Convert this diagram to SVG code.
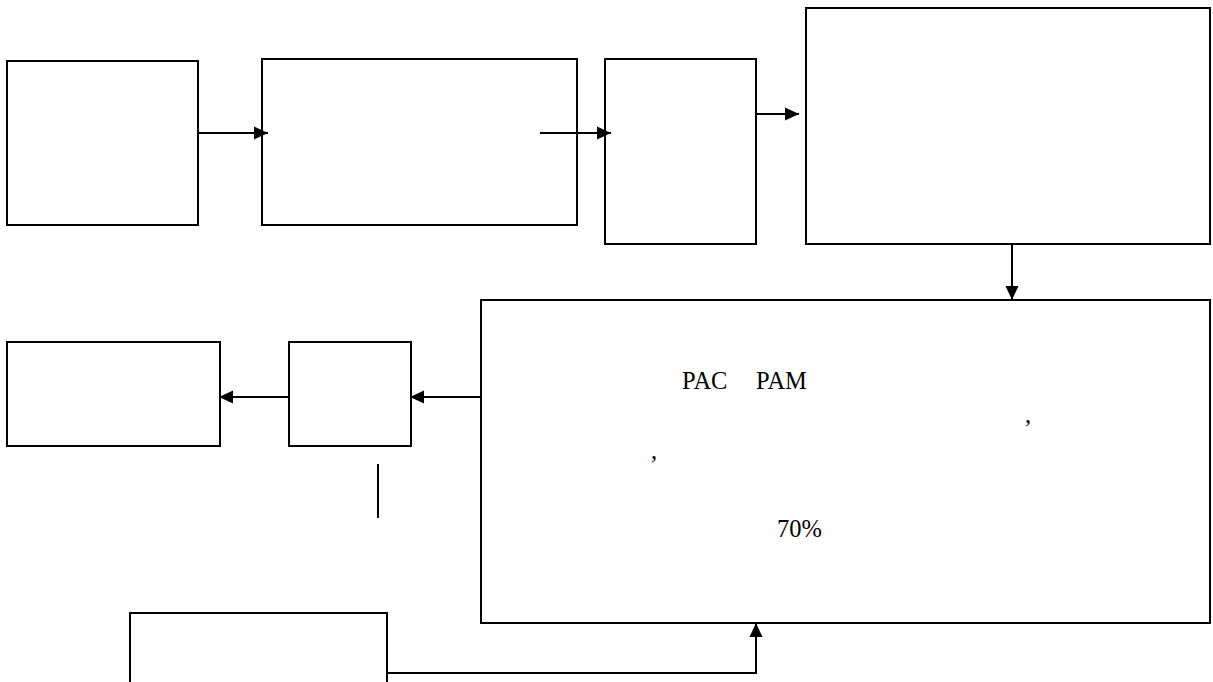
<svg xmlns="http://www.w3.org/2000/svg" width="1213" height="682" viewBox="0 0 1213 682">
<style>
.box{fill:#fff;stroke:#000;stroke-width:2}
.ln{fill:none;stroke:#000;stroke-width:2}
.t{font-family:"Liberation Serif","Times New Roman",serif;font-size:24.5px;fill:#000}
</style>
<defs>
<marker id="ah" markerUnits="userSpaceOnUse" markerWidth="14" markerHeight="14" refX="14" refY="7" orient="auto">
<path d="M0,0.5 L14,7 L0,13.5 Z" fill="#000"/>
</marker>
</defs>
<rect width="1213" height="682" fill="#fff"/>
<g id="n1"><rect class="box" x="7" y="61" width="191" height="164"/></g>
<g id="n2"><rect class="box" x="262" y="59" width="315" height="166"/></g>
<g id="n3"><rect class="box" x="605" y="59" width="151" height="185"/></g>
<g id="n4"><rect class="box" x="806" y="8" width="404" height="236"/></g>
<g id="n5"><rect class="box" x="481" y="300" width="729" height="323"/>
<text class="t" x="682" y="389">PAC</text>
<text class="t" x="756" y="389">PAM</text>
<text class="t" x="1025" y="423">,</text>
<text class="t" x="651" y="459">,</text>
<text class="t" x="777" y="537">70%</text>
</g>
<g id="n6"><rect class="box" x="7" y="342" width="213" height="104"/></g>
<g id="n7"><rect class="box" x="289" y="342" width="122" height="104"/></g>
<g id="n8"><rect class="box" x="130" y="613" width="257" height="80"/></g>
<g id="connectors">
<line class="ln" x1="198" y1="133" x2="268" y2="133" marker-end="url(#ah)"/>
<line class="ln" x1="540" y1="133" x2="611" y2="133" marker-end="url(#ah)"/>
<line class="ln" x1="756" y1="114" x2="799" y2="114" marker-end="url(#ah)"/>
<line class="ln" x1="1012" y1="244" x2="1012" y2="300" marker-end="url(#ah)"/>
<line class="ln" x1="481" y1="397" x2="410" y2="397" marker-end="url(#ah)"/>
<line class="ln" x1="289" y1="397" x2="219" y2="397" marker-end="url(#ah)"/>
<polyline class="ln" points="387,673 756,673 756,623" marker-end="url(#ah)"/>
<line class="ln" x1="378" y1="464" x2="378" y2="518"/>
</g>
</svg>
